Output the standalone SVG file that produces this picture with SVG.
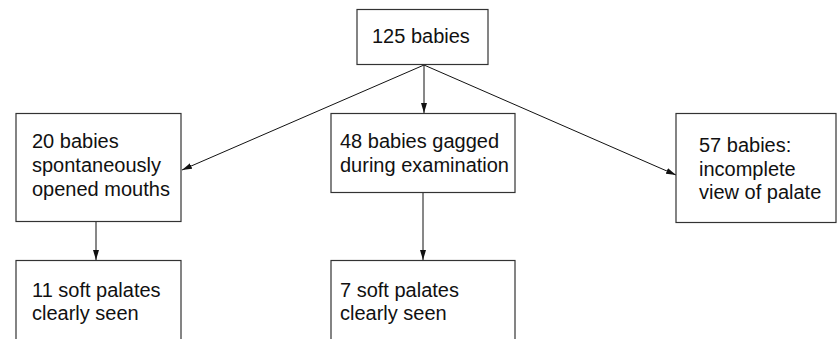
<svg xmlns="http://www.w3.org/2000/svg" width="837" height="339" viewBox="0 0 837 339">
<style>
.box{fill:#fff;stroke:#333;stroke-width:1.2}
.t{font-family:"Liberation Sans",Arial,sans-serif;font-size:20px;fill:#111}
.c{stroke:#111;stroke-width:1;fill:none;marker-end:url(#ah)}
</style>
<defs>
<marker id="ah" viewBox="0 0 10 6" refX="10" refY="3" markerWidth="10" markerHeight="6" markerUnits="userSpaceOnUse" orient="auto">
<path d="M0,0 L10,3 L0,6 Z" fill="#111"/>
</marker>
</defs>
<rect width="837" height="339" fill="#fff"/>
<g id="connectors">
<line class="c" x1="424" y1="65" x2="424" y2="113"/>
<line class="c" x1="424" y1="65" x2="182" y2="170"/>
<line class="c" x1="424" y1="65" x2="676" y2="175"/>
<line class="c" x1="96" y1="222" x2="96" y2="260"/>
<line class="c" x1="423" y1="193" x2="423" y2="260"/>
</g>
<g id="n125">
<rect class="box" x="357" y="9.5" width="131" height="55"/>
<text class="t" x="372" y="43">125 babies</text>
</g>
<g id="n20">
<rect class="box" x="16" y="113.5" width="165" height="108"/>
<text class="t" x="32" y="148">20 babies</text>
<text class="t" x="32" y="172">spontaneously</text>
<text class="t" x="32" y="196">opened mouths</text>
</g>
<g id="n48">
<rect class="box" x="331" y="113.5" width="184" height="79"/>
<text class="t" x="340" y="148">48 babies gagged</text>
<text class="t" x="340" y="172">during examination</text>
</g>
<g id="n57">
<rect class="box" x="676" y="113.5" width="160" height="109"/>
<text class="t" x="699" y="152">57 babies:</text>
<text class="t" x="699" y="176">incomplete</text>
<text class="t" x="699" y="199">view of palate</text>
</g>
<g id="n11">
<rect class="box" x="16" y="260.5" width="165" height="90"/>
<text class="t" x="32" y="297">11 soft palates</text>
<text class="t" x="32" y="320">clearly seen</text>
</g>
<g id="n7">
<rect class="box" x="331" y="260.5" width="184" height="90"/>
<text class="t" x="340" y="297">7 soft palates</text>
<text class="t" x="340" y="320">clearly seen</text>
</g>
</svg>
